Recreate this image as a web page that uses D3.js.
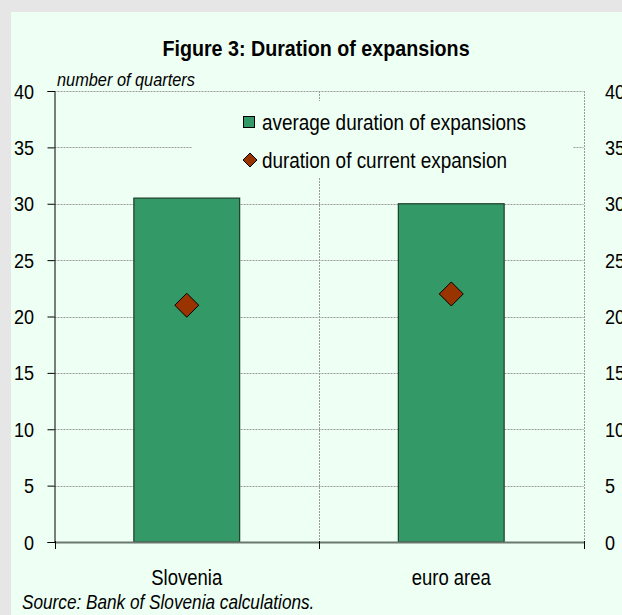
<!DOCTYPE html>
<html>
<head>
<meta charset="utf-8">
<script src="https://cdn.jsdelivr.net/npm/d3@7"></script>
<style>
  html, body { margin: 0; padding: 0; background: #e6e6e6; }
  svg { display: block; }
  text { font-family: "Liberation Sans", Arial, sans-serif; fill: #000; }
</style>
</head>
<body>
<svg id="chart" width="622" height="615"></svg>
<script>
// Duration of expansions, in quarters
const categories = ["Slovenia", "euro area"];
const averageDuration = [30.5, 30];
const currentDuration = [21, 22];
const yTicks = [0, 5, 10, 15, 20, 25, 30, 35, 40];
const legendLabels = ["average duration of expansions", "duration of current expansion"];

const W = 622, H = 615;
const svg = d3.select("#chart");

const barFill = "#339966", diamondFill = "#993300", panelFill = "#eefff3";
const NARROW = 0.86; // horizontal squeeze giving a condensed sans look

// condensed text: a group positioned at (x, y) and squeezed horizontally
function label(parent, xPos, yPos, str, o = {}) {
  const g = parent.append("g")
    .attr("transform", `translate(${xPos},${yPos}) scale(${o.sx || NARROW},1)`);
  const t = g.append("text")
    .attr("font-size", o.size || 20)
    .attr("text-anchor", o.anchor || "start")
    .attr("dy", o.dy || "0.36em")
    .text(str);
  if (o.bold) t.attr("font-weight", "bold");
  if (o.italic) t.attr("font-style", "italic");
  return g;
}

// panel
svg.append("rect").attr("x", 0).attr("y", 0).attr("width", W).attr("height", H).attr("fill", "#e6e6e6");
svg.append("rect").attr("x", 11).attr("y", 12).attr("width", W - 11).attr("height", H - 12).attr("fill", panelFill);

const plot = { left: 54.5, right: 583.5, top: 91, bottom: 542 };

const x = d3.scaleBand().domain(categories)
  .range([plot.left, plot.right]).paddingInner(0.6).paddingOuter(0.3);
const xStep = d3.scaleBand().domain(categories).range([plot.left, plot.right]).padding(0);
const y = d3.scaleLinear().domain([0, 40]).range([plot.bottom, plot.top]);

// horizontal gridlines
svg.append("g").selectAll("line").data(yTicks.filter(d => d > 0)).join("line")
  .attr("x1", plot.left).attr("x2", plot.right)
  .attr("y1", d => Math.round(y(d)) + 0.5).attr("y2", d => Math.round(y(d)) + 0.5)
  .attr("stroke", "#9a9a9a").attr("stroke-width", 1).attr("stroke-dasharray", "2,1");

// vertical gridlines at category boundaries
const vLines = categories.slice(1).map(c => xStep(c)).concat([plot.right]);
svg.append("g").selectAll("line").data(vLines).join("line")
  .attr("x1", d => Math.round(d) + 0.5).attr("x2", d => Math.round(d) + 0.5)
  .attr("y1", plot.top).attr("y2", plot.bottom)
  .attr("stroke", "#9a9a9a").attr("stroke-width", 1).attr("stroke-dasharray", "2,1");

// legend box hides the grid beneath it
svg.append("rect").attr("x", 192).attr("y", 101).attr("width", 381).attr("height", 77).attr("fill", panelFill);

// bars
svg.append("g").selectAll("rect").data(categories).join("rect")
  .attr("x", d => x(d)).attr("width", x.bandwidth())
  .attr("y", (d, i) => y(averageDuration[i]))
  .attr("height", (d, i) => y(0) - y(averageDuration[i]))
  .attr("fill", barFill).attr("stroke", "#1f3d2c").attr("stroke-width", 1.2);

// diamonds
const diamond = s => `M0,${-s}L${s},0L0,${s}L${-s},0Z`;
svg.append("g").selectAll("path").data(categories).join("path")
  .attr("transform", (d, i) => `translate(${x(d) + x.bandwidth() / 2},${y(currentDuration[i])})`)
  .attr("d", diamond(12))
  .attr("fill", diamondFill).attr("stroke", "#000").attr("stroke-width", 1);

// y axis (left)
const yAxisL = d3.axisLeft(y).tickValues(yTicks).tickSize(7).tickFormat("");
const gL = svg.append("g").attr("transform", `translate(${plot.left},0)`).call(yAxisL);
gL.select(".domain").attr("stroke", "#000");
gL.selectAll(".tick line").attr("stroke", "#000");
const yLab = svg.append("g");
yTicks.forEach(v => label(yLab, 34, y(v), String(v), { size: 21, anchor: "end" }));

// y labels (right)
const yLabR = svg.append("g");
yTicks.forEach(v => label(yLabR, 605, y(v), String(v), { size: 21 }));

// x axis
const xAxis = d3.axisBottom(xStep).tickValues([]).tickSize(0);
const gX = svg.append("g").attr("transform", `translate(0,${plot.bottom})`).call(xAxis);
gX.select(".domain").attr("stroke", "#6b786f").attr("stroke-width", 2);
const xTickPos = [plot.left].concat(vLines);
gX.selectAll(".xt").data(xTickPos).join("line").attr("class", "xt")
  .attr("x1", d => Math.round(d) + 0.5).attr("x2", d => Math.round(d) + 0.5)
  .attr("y1", -1).attr("y2", 7).attr("stroke", "#000");
const xLab = svg.append("g");
categories.forEach(c => label(xLab, x(c) + x.bandwidth() / 2, 577, c, { size: 21.5, anchor: "middle" }));

// title and notes
label(svg, 316, 48, "Figure 3: Duration of expansions", { size: 22.5, anchor: "middle", bold: true, sx: 0.875 });
label(svg, 57, 79, "number of quarters", { size: 19, italic: true });
label(svg, 22, 602, "Source: Bank of Slovenia calculations.", { size: 20, italic: true });

// legend
const lg = svg.append("g");
lg.append("rect").attr("x", 243.5).attr("y", 116.5).attr("width", 11).attr("height", 11)
  .attr("fill", barFill).attr("stroke", "#000").attr("stroke-width", 1);
lg.append("path").attr("transform", "translate(250,160)").attr("d", diamond(7))
  .attr("fill", diamondFill).attr("stroke", "#000").attr("stroke-width", 1);
legendLabels.forEach((d, i) => label(lg, 262, 122 + i * 38, d, { size: 21.5, sx: 0.88 }));
</script>
</body>
</html>
